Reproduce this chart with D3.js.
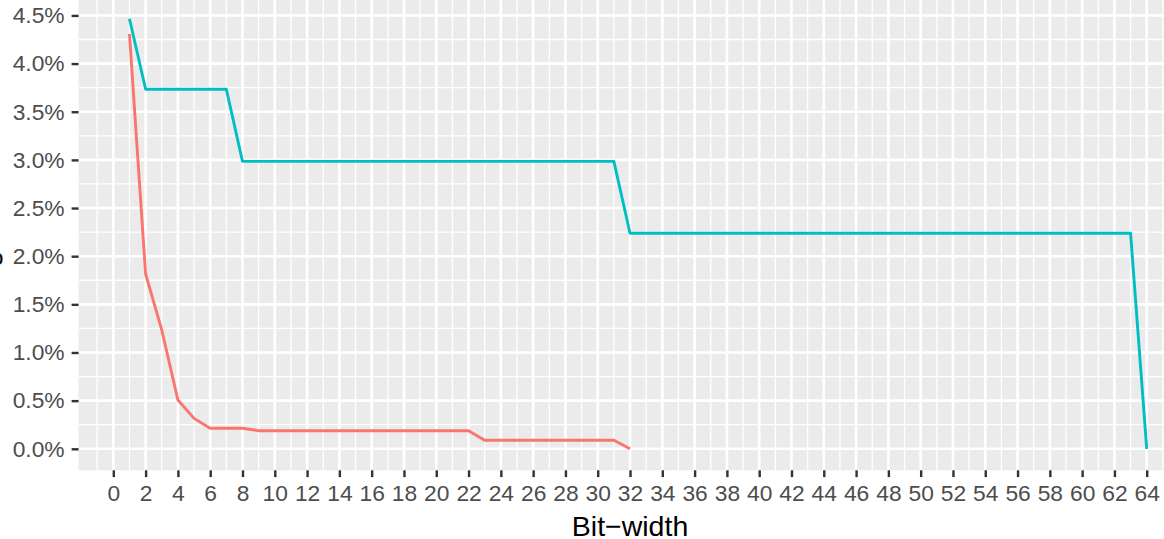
<!DOCTYPE html>
<html>
<head>
<meta charset="utf-8">
<script src="https://cdn.jsdelivr.net/npm/d3@7"></script>
<style>
  html, body { margin: 0; padding: 0; background: #ffffff; }
  svg { display: block; }
  text { font-family: "Liberation Sans", Arial, Helvetica, sans-serif; }
</style>
</head>
<body>
<svg id="chart" width="1164" height="539"></svg>
<script>
// ---- data (values in percent) ----
const bitWidthsA = [1,2,3,4,5,6,7,8,9,10,11,12,13,14,15,16,17,18,19,20,21,22,23,24,25,26,27,28,29,30,31,32];
const seriesA = [4.307,1.815,1.234,0.507,0.316,0.213,0.213,0.213,0.188,0.188,0.188,0.188,0.188,0.188,0.188,0.188,0.188,0.188,0.188,0.188,0.188,0.188,0.088,0.088,0.088,0.088,0.088,0.088,0.088,0.088,0.088,0.0];

const bitWidthsB = [1,2,3,4,5,6,7,8,9,10,11,12,13,14,15,16,17,18,19,20,21,22,23,24,25,26,27,28,29,30,31,32,33,34,35,36,37,38,39,40,41,42,43,44,45,46,47,48,49,50,51,52,53,54,55,56,57,58,59,60,61,62,63,64];
const seriesB = [4.466,3.733,3.733,3.733,3.733,3.733,3.733,2.985,2.985,2.985,2.985,2.985,2.985,2.985,2.985,2.985,2.985,2.985,2.985,2.985,2.985,2.985,2.985,2.985,2.985,2.985,2.985,2.985,2.985,2.985,2.985,2.238,2.238,2.238,2.238,2.238,2.238,2.238,2.238,2.238,2.238,2.238,2.238,2.238,2.238,2.238,2.238,2.238,2.238,2.238,2.238,2.238,2.238,2.238,2.238,2.238,2.238,2.238,2.238,2.238,2.238,2.238,2.238,0.0];

const xTicks = [0,2,4,6,8,10,12,14,16,18,20,22,24,26,28,30,32,34,36,38,40,42,44,46,48,50,52,54,56,58,60,62,64];
const xMinor = [-1,1,3,5,7,9,11,13,15,17,19,21,23,25,27,29,31,33,35,37,39,41,43,45,47,49,51,53,55,57,59,61,63,65];
const yTicks = [0,0.5,1,1.5,2,2.5,3,3.5,4,4.5];
const yTickLabels = ["0.0%","0.5%","1.0%","1.5%","2.0%","2.5%","3.0%","3.5%","4.0%","4.5%"];
const yMinor = [0.25,0.75,1.25,1.75,2.25,2.75,3.25,3.75,4.25];
const xTitle = "Bit\u2212width";
const yTitle = "Ratio";
const colors = ["#F8766D", "#00BFC4"];

// ---- layout ----
const svg = d3.select("#chart");
const panelLeft = 78.6, panelBottom = 470.3, panelTop = -2.8;
const xMinData = 1, xMaxData = 64, xr = xMaxData - xMinData;
const xDomain = [xMinData - 0.05 * xr, xMaxData + 0.05 * xr];
const pxPerUnit = 16.147;
const x = d3.scaleLinear().domain(xDomain).range([panelLeft, panelLeft + (xDomain[1] - xDomain[0]) * pxPerUnit]);
const yMaxData = d3.max(seriesB.concat(seriesA)), yMinData = 0;
const yr = yMaxData - yMinData;
const y = d3.scaleLinear().domain([yMinData - 0.05 * yr, yMaxData + 0.05 * yr]).range([panelBottom, panelTop]);

const panelRight = x(xDomain[1]);

// panel background
svg.append("rect")
  .attr("x", panelLeft).attr("y", panelTop)
  .attr("width", panelRight - panelLeft).attr("height", panelBottom - panelTop)
  .attr("fill", "#EBEBEB");

// grid
const grid = svg.append("g");
grid.selectAll(".ymin").data(yMinor).join("line")
  .attr("x1", panelLeft).attr("x2", panelRight)
  .attr("y1", d => y(d)).attr("y2", d => y(d))
  .attr("stroke", "#fff").attr("stroke-width", 1.3);
grid.selectAll(".xmin").data(xMinor).join("line")
  .attr("y1", panelTop).attr("y2", panelBottom)
  .attr("x1", d => x(d)).attr("x2", d => x(d))
  .attr("stroke", "#fff").attr("stroke-width", 1.3);
grid.selectAll(".ymaj").data(yTicks).join("line")
  .attr("x1", panelLeft).attr("x2", panelRight)
  .attr("y1", d => y(d)).attr("y2", d => y(d))
  .attr("stroke", "#fff").attr("stroke-width", 2.6);
grid.selectAll(".xmaj").data(xTicks).join("line")
  .attr("y1", panelTop).attr("y2", panelBottom)
  .attr("x1", d => x(d)).attr("x2", d => x(d))
  .attr("stroke", "#fff").attr("stroke-width", 2.6);

// lines
const line = d3.line().x(d => x(d[0])).y(d => y(d[1]));
const dataA = bitWidthsA.map((b, i) => [b, seriesA[i]]);
const dataB = bitWidthsB.map((b, i) => [b, seriesB[i]]);
svg.append("path").datum(dataA).attr("d", line)
  .attr("fill", "none").attr("stroke", colors[0]).attr("stroke-width", 2.9)
  .attr("stroke-linejoin", "round");
svg.append("path").datum(dataB).attr("d", line)
  .attr("fill", "none").attr("stroke", colors[1]).attr("stroke-width", 2.9)
  .attr("stroke-linejoin", "round");

// axes
const xAxis = d3.axisBottom(x).tickValues(xTicks).tickSize(6.8).tickPadding(8).tickFormat(d3.format("d"));
const gx = svg.append("g").attr("transform", `translate(0,${panelBottom})`).call(xAxis);
gx.select(".domain").remove();
gx.selectAll(".tick line").attr("stroke", "#333333").attr("stroke-width", 2.4);
gx.selectAll(".tick text").attr("fill", "#4D4D4D").attr("font-size", "22.8px")
  .attr("font-family", "Liberation Sans, Arial, sans-serif");

const yAxis = d3.axisLeft(y).tickValues(yTicks).tickSize(7).tickPadding(7)
  .tickFormat((d, i) => yTickLabels[i]);
const gy = svg.append("g").attr("transform", `translate(${panelLeft},0)`).call(yAxis);
gy.select(".domain").remove();
gy.selectAll(".tick line").attr("stroke", "#333333").attr("stroke-width", 2.4);
gy.selectAll(".tick text").attr("fill", "#4D4D4D").attr("font-size", "22.8px")
  .attr("font-family", "Liberation Sans, Arial, sans-serif");

// titles
svg.append("text").attr("x", x(32)).attr("y", 536)
  .attr("text-anchor", "middle").attr("font-size", "28.5px").attr("fill", "#000")
  .text(xTitle);
svg.append("text").attr("x", 3.5).attr("y", 265)
  .attr("text-anchor", "end").attr("font-size", "22.8px").attr("fill", "#000")
  .text(yTitle);
</script>
</body>
</html>
